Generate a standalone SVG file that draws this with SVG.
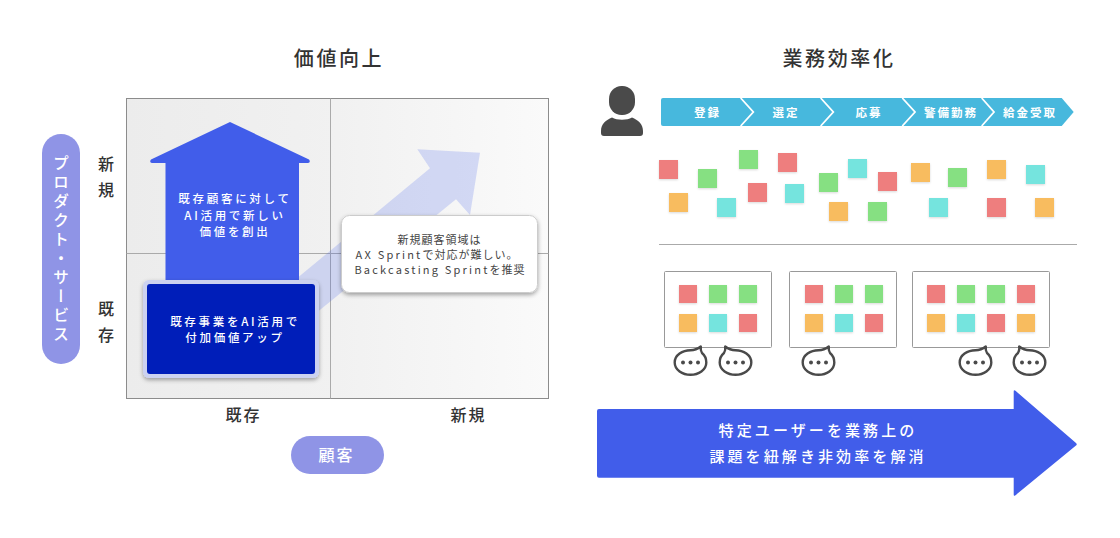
<svg xmlns="http://www.w3.org/2000/svg" width="1120" height="538" viewBox="0 0 1120 538">
<style>
text{font-family:"Noto Sans CJK JP","Noto Sans",sans-serif;text-anchor:middle;dominant-baseline:central}
.title{font-size:20px;font-weight:500;fill:#333;letter-spacing:2.6px}
.axis{font-size:16px;font-weight:500;fill:#333;letter-spacing:2px}
.w{fill:#fff;font-size:11.5px;font-weight:500;letter-spacing:2.7px}
.c{fill:#444;font-size:11px;letter-spacing:1px}
.l{letter-spacing:2.2px}
.s{font-size:11.5px;font-weight:700;fill:#fff;letter-spacing:2px}
.b{fill:#fff;font-size:15px;font-weight:500;letter-spacing:3.100px}
.r{fill:#ee7e7e;filter:url(#ss)}.g{fill:#86e082;filter:url(#ss)}.o{fill:#f8bc5f;filter:url(#ss)}.t{fill:#75e4de;filter:url(#ss)}
.board{fill:#fff;stroke:#999;stroke-width:1}
.div{stroke:#aaa;stroke-width:1;fill:none}
</style>
<defs>
<linearGradient id="bg" x1="0" y1="0" x2="1" y2="0"><stop offset="0" stop-color="#ececec"/><stop offset="0.5" stop-color="#f1f1f1"/><stop offset="1" stop-color="#fafafa"/></linearGradient>
<filter id="sh" x="-10%" y="-10%" width="120%" height="125%"><feDropShadow dx="0" dy="2" stdDeviation="2" flood-color="#000" flood-opacity=".35"/></filter>
<filter id="ss" x="-15%" y="-15%" width="130%" height="140%"><feDropShadow dx="0" dy="1" stdDeviation="0.8" flood-color="#000" flood-opacity=".15"/></filter>
<g id="bubble"><path d="M10.300 -16 C10 -14 10.300 -11.500 11.500 -9.500 C14.500 -7 15.800 -3.500 15.800 0 C15.800 7.500 8 12.300 0 12.300 C-8 12.300 -15.800 7.500 -15.800 0 C-15.800 -7.500 -8 -12.300 0 -12.300 C3.500 -12.300 6.500 -13 10.300 -16Z" fill="#fff" stroke="#4a4a4a" stroke-width="2.400" stroke-linejoin="round"/><circle cx="-7.500" cy="0" r="2" fill="#4a4a4a"/><circle cx="0" cy="0" r="2" fill="#4a4a4a"/><circle cx="7.500" cy="0" r="2" fill="#4a4a4a"/></g>
</defs>

<text class="title" x="339" y="57">価値向上</text>
<text class="title" x="839" y="57">業務効率化</text>

<g id="matrix">
<rect x="126.500" y="98.500" width="422" height="300" fill="url(#bg)" stroke="#8c8c8c"/>
<path class="div" d="M330.500 98.500V398.500M126.500 253.500H548.500"/>
</g>
<g id="growth-arrow"><path d="M417.300 149.300L480 152.700L470 215L456 199.300L310 318L290 284L430 168.300Z" fill="#415dea" fill-opacity=".2"/></g>
<g id="house">
<path d="M230 122L309 159.500Q311 162.500 308 163H299V282H165.500V163H152Q149 162.500 151 159.500Z" fill="#415dea"/>
<text class="w" x="235" y="198">既存顧客に対して</text>
<text class="w" x="235" y="214.500">AI活用で新しい</text>
<text class="w" x="235" y="230.500">価値を創出</text>
</g>
<g id="existing-box">
<rect x="143" y="280" width="176" height="98" rx="6" fill="#ccd2f0" filter="url(#sh)"/>
<rect x="147" y="284" width="168" height="90" rx="3" fill="#001eb9"/>
<text class="w" x="235" y="321">既存事業をAI活用で</text>
<text class="w" x="235" y="337">付加価値アップ</text>
</g>
<g id="callout">
<rect x="341.500" y="215.500" width="196" height="77" rx="8" fill="#fff" stroke="#ccc" filter="url(#sh)"/>
<text class="c" x="439.500" y="238.500">新規顧客領域は</text>
<text class="c" x="437" y="253.500"><tspan class="l">AX Sprint</tspan>で対応が難しい。</text>
<text class="c" x="440" y="268.500"><tspan class="l">Backcasting Sprint</tspan>を推奨</text>
</g>

<g id="axis-y">
<rect x="42" y="134" width="38" height="230" rx="19" fill="#8f94e6"/>
<text x="61" y="250" style="writing-mode:vertical-rl;font-size:16px;font-weight:500;letter-spacing:3px" fill="#fff">プロダクト・サービス</text>
</g>
<g id="labels-y">
<text class="axis" x="107" y="163">新</text><text class="axis" x="107" y="189">規</text>
<text class="axis" x="107" y="308">既</text><text class="axis" x="107" y="334">存</text>
</g>
<g id="labels-x">
<text class="axis" x="243.500" y="414">既存</text><text class="axis" x="468.500" y="414">新規</text>
</g>
<g id="axis-x">
<rect x="291" y="436" width="93" height="38" rx="19" fill="#8f94e6"/>
<text x="336.500" y="454" font-size="16" font-weight="500" letter-spacing="2" fill="#fff">顧客</text>
</g>

<g id="person" fill="#4a4a4a">
<rect x="609" y="86" width="26" height="29" rx="12.500" ry="13"/>
<path d="M601 131C601 124 606 120 612 117.500C617 120.500 627 120.500 632 117.500C638 120 643 124 643 131V133Q643 136 640 136H604Q601 136 601 133Z"/>
</g>

<g id="process">
<path d="M663 98H1061.700L1073.700 112L1061.700 126H663Q661 126 661 124V100Q661 98 663 98Z" fill="#47b8dd"/>
<path d="M740.700 98L753.300 112L740.700 126M820.700 98L833.300 112L820.700 126M902.300 98L915 112L902.300 126M981.700 98L994 112L981.700 126" fill="none" stroke="#fff" stroke-width="1.800"/>
<text class="s" x="707.500" y="112">登録</text>
<text class="s" x="786" y="112">選定</text>
<text class="s" x="869" y="112">応募</text>
<text class="s" x="951" y="112">警備勤務</text>
<text class="s" x="1030" y="112">給金受取</text>
</g>

<g id="stickies">
<rect class="r" x="659" y="160" width="19" height="19"/>
<rect class="g" x="698" y="169" width="19" height="19"/>
<rect class="g" x="739" y="150" width="19" height="19"/>
<rect class="r" x="778" y="153" width="19" height="19"/>
<rect class="o" x="669" y="193" width="19" height="19"/>
<rect class="t" x="717" y="198" width="19" height="19"/>
<rect class="r" x="748" y="183" width="19" height="19"/>
<rect class="t" x="785" y="184" width="19" height="19"/>
<rect class="g" x="819" y="173" width="19" height="19"/>
<rect class="t" x="848" y="159" width="19" height="19"/>
<rect class="r" x="878" y="172" width="19" height="19"/>
<rect class="o" x="829" y="202" width="19" height="19"/>
<rect class="g" x="868" y="202" width="19" height="19"/>
<rect class="o" x="911" y="163" width="19" height="19"/>
<rect class="g" x="948" y="168" width="19" height="19"/>
<rect class="o" x="987" y="160" width="19" height="19"/>
<rect class="t" x="1026" y="165" width="19" height="19"/>
<rect class="t" x="929" y="198" width="19" height="19"/>
<rect class="r" x="987" y="198" width="19" height="19"/>
<rect class="o" x="1035" y="198" width="19" height="19"/>
</g>
<line id="separator" x1="659" y1="244.500" x2="1077" y2="244.500" stroke="#aaa"/>

<g id="board-1">
<rect class="board" x="664.500" y="271.500" width="107" height="76" rx="1"/>
<rect class="r" x="679" y="285" width="18" height="18"/><rect class="g" x="709" y="285" width="18" height="18"/><rect class="g" x="739" y="285" width="18" height="18"/>
<rect class="o" x="679" y="314" width="18" height="18"/><rect class="t" x="709" y="314" width="18" height="18"/><rect class="r" x="739" y="314" width="18" height="18"/>
</g>
<g id="board-2">
<rect class="board" x="789.500" y="271.500" width="107" height="76" rx="1"/>
<rect class="r" x="805" y="285" width="18" height="18"/><rect class="g" x="835" y="285" width="18" height="18"/><rect class="g" x="865" y="285" width="18" height="18"/>
<rect class="o" x="805" y="314" width="18" height="18"/><rect class="t" x="835" y="314" width="18" height="18"/><rect class="r" x="865" y="314" width="18" height="18"/>
</g>
<g id="board-3">
<rect class="board" x="912.500" y="271.500" width="137" height="76" rx="1"/>
<rect class="r" x="927" y="285" width="18" height="18"/><rect class="g" x="957" y="285" width="18" height="18"/><rect class="g" x="987" y="285" width="18" height="18"/><rect class="r" x="1017" y="285" width="18" height="18"/>
<rect class="o" x="927" y="314" width="18" height="18"/><rect class="t" x="957" y="314" width="18" height="18"/><rect class="r" x="987" y="314" width="18" height="18"/><rect class="o" x="1017" y="314" width="18" height="18"/>
</g>
<g id="bubbles">
<use href="#bubble" transform="translate(690.500 362.500)"/>
<use href="#bubble" transform="translate(735.500 362.500) scale(-1 1)"/>
<use href="#bubble" transform="translate(818.500 362.500)"/>
<use href="#bubble" transform="translate(975.500 362.500)"/>
<use href="#bubble" transform="translate(1029.500 362.500) scale(-1 1)"/>
</g>

<g id="result-arrow">
<path d="M599 409H1013.700V391.500Q1013.700 389.500 1015.500 390.800L1076 443Q1077.500 444.300 1076 445.600L1015.500 495.200Q1013.700 496.500 1013.700 494.500V477.700H599Q597 477.700 597 475.700V411Q597 409 599 409Z" fill="#415dea"/>
<text class="b" x="818" y="429">特定ユーザーを業務上の</text>
<text class="b" x="818" y="455">課題を紐解き非効率を解消</text>
</g>
</svg>
